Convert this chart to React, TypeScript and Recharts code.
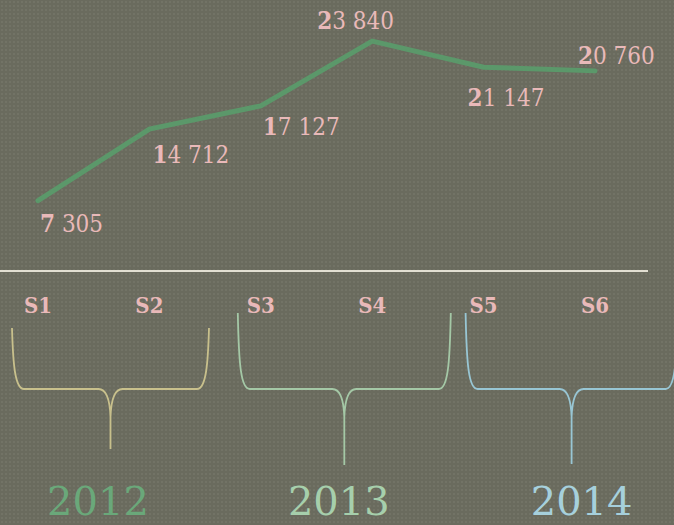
import { LineChart, Line, XAxis, YAxis, LabelList } from 'recharts';

const seasons = ['S1', 'S2', 'S3', 'S4', 'S5', 'S6'];
const visits = [7305, 14712, 17127, 23840, 21147, 20760];
const years = ['2012', '2013', '2014'];

const data = seasons.map((season, i) => ({ season, visits: visits[i] }));

const PINK = '#e9b9b9';
const LINE_GREEN = '#5b986a';
const SERIF = "'DejaVu Serif', serif";
const SERIF_COND = "'DejaVu Serif Condensed', 'DejaVu Serif', serif";

// per-point label placement (text start x, baseline y relative to the point)
const labelOffsets = [
  [2, 31],
  [3, 34],
  [2, 29],
  [-55, -12],
  [-16, 39],
  [-17, -7],
];

// brace + year decoration for each year, relative to its first season tick
const braceStyles = [
  { left: -26, right: 171, top: 57, bottom: 178, yearDx: 60, brace: '#c8c08c', text: '#6aa87a' },
  { left: -23, right: 190, top: 42, bottom: 194, yearDx: 78, brace: '#a4c8a6', text: '#a6cfac' },
  { left: -18, right: 194, top: 42, bottom: 193, yearDx: 98, brace: '#98c6d4', text: '#a6d0dc' },
];

const fmt = (v: number) => v.toLocaleString('en-US').replace(/,/g, ' ');

const ValueLabel = (props: any) => {
  const { x, y, value, index } = props;
  const s = fmt(value);
  const [dx, dy] = labelOffsets[index] || [0, 0];
  return (
    <text x={x + dx} y={y + dy} fill={PINK} fontSize={24} fontFamily={SERIF_COND}>
      <tspan fontWeight="bold">{s.slice(0, 1)}</tspan>
      <tspan>{s.slice(1)}</tspan>
    </text>
  );
};

const SeasonTick = (props: any) => {
  const { x, y, payload, index } = props;
  const hy = y + 118;
  let brace = null;
  if (index % 2 === 0) {
    const g = braceStyles[index / 2];
    const L = x + g.left;
    const R = x + g.right;
    const cx = (L + R) / 2;
    const top = y + g.top;
    const bot = y + g.bottom;
    const d =
      `M${L},${top} C${L + 1},${hy - 25} ${L + 3},${hy} ${L + 12},${hy} ` +
      `L${cx - 12},${hy} Q${cx - 1},${hy} ${cx},${hy + 28} L${cx},${bot} ` +
      `M${cx},${hy + 28} Q${cx + 1},${hy} ${cx + 12},${hy} L${R - 12},${hy} ` +
      `C${R - 3},${hy} ${R - 1},${hy - 25} ${R},${top}`;
    brace = (
      <g>
        <path d={d} fill="none" stroke={g.brace} strokeWidth={1.8} />
        <text
          x={x + g.yearDx}
          y={y + 244}
          textAnchor="middle"
          fill={g.text}
          fontSize={40}
          fontFamily={SERIF}
        >
          {years[index / 2]}
        </text>
      </g>
    );
  }
  return (
    <g>
      <text
        x={x}
        y={y + 42}
        textAnchor="middle"
        fill={PINK}
        fontSize={22}
        fontWeight="bold"
        fontFamily={SERIF_COND}
      >
        {payload.value}
      </text>
      {brace}
    </g>
  );
};

export default function App() {
  return (
    <div
      style={{
        position: 'fixed',
        left: 0,
        top: 0,
        width: 674,
        height: 525,
        overflow: 'hidden',
        backgroundColor: '#6a6b5e',
        backgroundImage:
          'radial-gradient(rgba(255,255,255,0.05) 1px, transparent 1.5px)',
        backgroundSize: '4px 4px',
      }}
    >
      <LineChart
        width={674}
        height={525}
        data={data}
        margin={{ top: 30, right: 26, bottom: 0, left: 0 }}
      >
        <YAxis hide domain={[0, 25000]} />
        <XAxis
          dataKey="season"
          height={254}
          interval={0}
          tickLine={false}
          tickSize={0}
          tickMargin={0}
          axisLine={{ stroke: '#e2dfd2', strokeWidth: 2 }}
          padding={{ left: 38, right: 53 }}
          tick={<SeasonTick />}
        />
        <Line
          type="linear"
          dataKey="visits"
          stroke={LINE_GREEN}
          strokeWidth={5}
          strokeLinecap="round"
          dot={false}
          activeDot={false}
          isAnimationActive={false}
        >
          <LabelList dataKey="visits" content={<ValueLabel />} />
        </Line>
      </LineChart>
    </div>
  );
}
